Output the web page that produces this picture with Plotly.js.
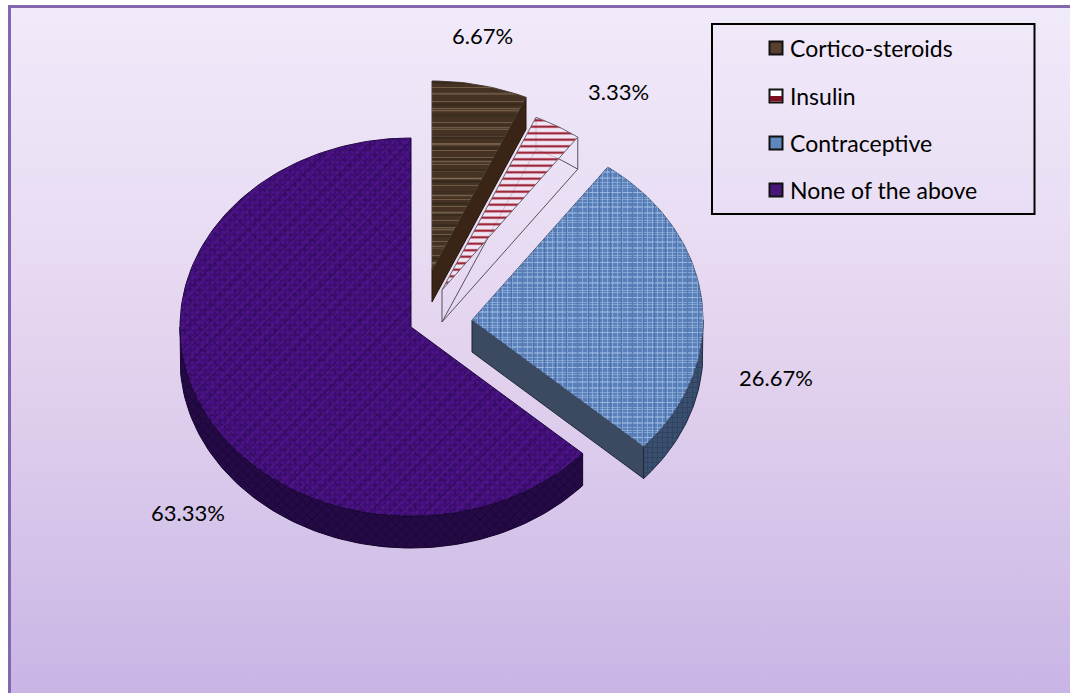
<!DOCTYPE html>
<html>
<head>
<meta charset="utf-8">
<script src="https://cdn.plot.ly/plotly-3.0.1.min.js"></script>
<style>
  html, body { margin: 0; padding: 0; background: #fff; width: 1070px; height: 693px; overflow: hidden; }
  #frame {
    position: absolute; left: 8px; top: 5px; width: 1062px; height: 688px; box-sizing: border-box;
    border-left: 3px solid #8467ae; border-top: 3px solid #8467ae;
    background: linear-gradient(180deg, #f1eafa 0%, #e9def4 30%, #e3d3ee 50%, #d6c5ea 75%, #c8b5e5 100%);
  }
  #chart { position: absolute; left: 0; top: 0; width: 1070px; height: 693px; }
</style>
</head>
<body>
<div id="frame"></div>
<div id="chart"></div>
<script>
// Share of respondents per medication group, clockwise from twelve o'clock.
const categories = ["Cortico-steroids", "Insulin", "Contraceptive", "None of the above"];
const percentages = [6.67, 3.33, 26.67, 63.33];

// Tilted-pie projection, in page pixels.
const radiusX = 231, radiusY = 189, depth = 32;
const apexX = [432, 442, 472, 411];
const apexY = [270, 290, 320, 327];
const labelX = [482, 618, 776, 188];
const labelY = [35, 91, 377, 512];
const legendY = [48, 96, 143, 190];
const swatchColors = ["#57402f", "#ffffff", "#5f86bd", "#47167a"];

const arcPoint = (i, deg, drop) => {
  const r = deg * Math.PI / 180;
  return [apexX[i] + radiusX * Math.sin(r), apexY[i] - radiusY * Math.cos(r) + drop];
};
const arcPoints = (i, from, to, drop) => {
  const n = Math.max(2, Math.ceil(Math.abs(to - from) / 1.5));
  const pts = [];
  for (let k = 0; k <= n; k++) pts.push(arcPoint(i, from + (to - from) * k / n, drop));
  return pts;
};
const poly = (pts, style) => Object.assign({
  type: "scatter", mode: "lines", fill: "toself", hoverinfo: "skip", showlegend: false,
  x: pts.map(p => p[0]), y: pts.map(p => p[1])
}, style);
const edge = (color, width) => ({ color: color, width: width === undefined ? 1 : width });
const clear = "rgba(0,0,0,0)";

// A see-through texture layer laid over a face that is already filled.
const grain = (pts, shape, size, solidity, color, opacity) => poly(pts, {
  line: { width: 0 }, fillcolor: clear,
  fillpattern: { shape: shape, size: size, solidity: solidity, bgcolor: clear, fgcolor: color, fgopacity: opacity }
});

// Cumulative sweep of each slice in degrees.
const starts = [], ends = [];
percentages.reduce((sum, v, i) => { starts[i] = sum * 3.6; ends[i] = (sum + v) * 3.6; return sum + v; }, 0);

const topFace = i => [[apexX[i], apexY[i]]].concat(arcPoints(i, starts[i], ends[i], 0), [[apexX[i], apexY[i]]]);
const rim = (i, a, b) => arcPoints(i, a, b, 0).concat(arcPoints(i, b, a, depth)).concat([arcPoint(i, a, 0)]);
const cutFace = (i, deg) => [[apexX[i], apexY[i]], arcPoint(i, deg, 0), arcPoint(i, deg, depth),
  [apexX[i], apexY[i] + depth], [apexX[i], apexY[i]]];

const traces = [];

// None of the above
traces.push(poly(rim(3, ends[2], 270), { line: edge("#14042a"), fillcolor: "#260a48" }));
traces.push(grain(rim(3, ends[2], 270), "x", 7, 0.3, "#150430", 0.8));
traces.push(poly(topFace(3), { line: edge("#1a0733"), fillcolor: "#3f0e76" }));
traces.push(grain(topFace(3), "x", 13, 0.22, "#2c0b55", 0.8));
traces.push(grain(topFace(3), "/", 9, 0.2, "#5d1c8e", 0.5));
traces.push(grain(topFace(3), "\\", 7, 0.18, "#300b5c", 0.55));
traces.push(grain(topFace(3), ".", 5, 0.25, "#53149a", 0.6));

// Contraceptive
traces.push(poly(cutFace(2, ends[2]), { line: edge("#1c2738"), fillcolor: "#3b4a60" }));
traces.push(poly(rim(2, ends[2], 90), { line: edge("#1c2738"), fillcolor: "#3a4f70" }));
traces.push(grain(rim(2, ends[2], 90), "+", 5, 0.25, "#2a3b56", 0.9));
traces.push(poly(topFace(2), { line: edge("#46597a"), fillcolor: "#5a80b9" }));
traces.push(grain(topFace(2), "+", 5, 0.28, "#a4c2ec", 0.75));
traces.push(grain(topFace(2), "-", 7, 0.14, "#bcd4f3", 0.4));
traces.push(grain(topFace(2), "|", 11, 0.12, "#4a6ba3", 0.7));

// Insulin: a wireframe body with a hatched top face
const wire = [].concat(
  [[apexX[1], apexY[1]], [apexX[1], apexY[1] + depth]],
  [arcPoint(1, ends[1], depth)],
  arcPoints(1, ends[1], starts[1], depth),
  [[apexX[1], apexY[1] + depth]]
);
traces.push(poly(wire, { fill: "none", line: edge("#55525a") }));
[starts[1], ends[1]].forEach(a => {
  const e = [arcPoint(1, a, 0), arcPoint(1, a, depth)];
  traces.push(poly(e, { fill: "none", line: edge("#55525a") }));
});
traces.push(poly(topFace(1), {
  line: edge("#67626e"), fillcolor: "rgba(241,231,244,0.75)",
  fillpattern: { shape: "-", size: 6.5, solidity: 0.31, bgcolor: "rgba(241,231,244,0.75)", fgcolor: "#960f22" }
}));

// Cortico-steroids
traces.push(poly(cutFace(0, starts[1]), { line: edge("#24160c"), fillcolor: "#3a2416" }));
traces.push(poly(topFace(0), { line: edge("#4a3f37"), fillcolor: "#453222" }));
traces.push(grain(topFace(0), "-", 7, 0.14, "#7b654e", 0.8));
traces.push(grain(topFace(0), "-", 11, 0.2, "#33261a", 0.8));
traces.push(grain(topFace(0), "-", 17, 0.1, "#8a745c", 0.6));

// Key swatches
const swatchX = 776;
traces.push({
  type: "scatter", mode: "markers", hoverinfo: "skip", showlegend: false,
  x: categories.map(() => swatchX), y: legendY,
  marker: { symbol: "square", size: 13, color: swatchColors, line: { color: "#111", width: 2 } }
});

const annotations = percentages.map((v, i) => ({
  x: labelX[i], y: labelY[i], xref: "x", yref: "y", text: v.toFixed(2) + "%",
  showarrow: false, xanchor: "center", yanchor: "middle",
  font: { family: "Lato, sans-serif", size: 22, color: "#000" }
})).concat(categories.map((name, i) => ({
  x: 788, y: legendY[i], xref: "x", yref: "y", text: name,
  showarrow: false, xanchor: "left", yanchor: "middle",
  font: { family: "Lato, sans-serif", size: 23, color: "#000" }
})));

const layout = {
  width: 1070, height: 693,
  margin: { l: 0, r: 0, t: 0, b: 0 },
  paper_bgcolor: clear, plot_bgcolor: clear,
  showlegend: false,
  xaxis: { range: [0, 1070], visible: false, fixedrange: true },
  yaxis: { range: [693, 0], visible: false, fixedrange: true },
  annotations: annotations,
  shapes: [
    { type: "rect", xref: "x", yref: "y", x0: 712, x1: 1034.5, y0: 24, y1: 214, line: { color: "#000", width: 2 } },
    // Lower half of the hatched key swatch
    { type: "rect", xref: "x", yref: "y", x0: 770, x1: 782, y0: 96, y1: 101.5, fillcolor: "#7d1020", line: { width: 0 } }
  ]
};

Plotly.newPlot("chart", traces, layout, { staticPlot: true, displayModeBar: false });
</script>
</body>
</html>
